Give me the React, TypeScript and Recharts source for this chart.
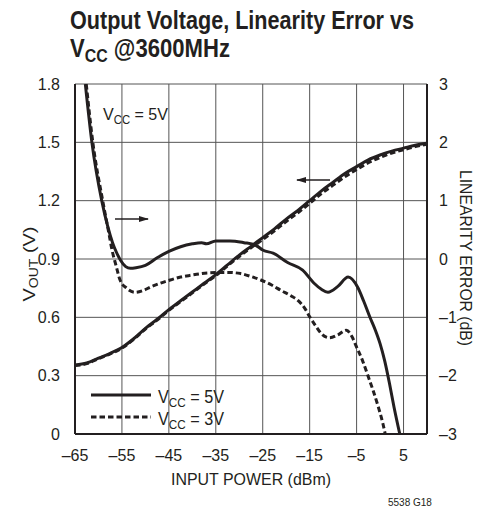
import React from 'react';
import { ComposedChart, Line, XAxis, YAxis, CartesianGrid, Legend } from 'recharts';

// ---- data ----
const xTicks = [-65, -55, -45, -35, -25, -15, -5, 5];
const voutTicks = [0, 0.3, 0.6, 0.9, 1.2, 1.5, 1.8];
const errTicks = [-3, -2, -1, 0, 1, 2, 3];

// Output voltage vs input power
const voutPin = [-65, -62.5, -60, -57.5, -55, -52.5, -50, -47.5, -45, -42.5, -40, -37.5, -35, -32.5, -30, -27.5, -25, -22.5, -20, -17.5, -15, -12.5, -10, -7.5, -5, -2.5, 0, 2.5, 5, 7.5, 10];
const vout5V = [0.355, 0.365, 0.39, 0.415, 0.445, 0.49, 0.543, 0.59, 0.64, 0.685, 0.73, 0.775, 0.82, 0.87, 0.92, 0.965, 1.01, 1.055, 1.105, 1.15, 1.2, 1.25, 1.295, 1.34, 1.375, 1.41, 1.435, 1.455, 1.47, 1.485, 1.495];
const vout3V = [0.352, 0.362, 0.387, 0.412, 0.442, 0.487, 0.54, 0.586, 0.636, 0.681, 0.726, 0.771, 0.815, 0.865, 0.913, 0.958, 1.0, 1.045, 1.093, 1.138, 1.186, 1.236, 1.28, 1.323, 1.36, 1.395, 1.422, 1.445, 1.462, 1.478, 1.49];

// Linearity error, VCC = 5V
const errPin5V = [-62.8, -61.4, -59.3, -58, -57, -56.2, -55.3, -54.2, -53.2, -52, -50, -47.5, -45, -42.5, -40, -38, -37, -35, -32, -29, -26.6, -24.9, -22.8, -19.7, -16.5, -14, -12.5, -11.1, -9, -6.8, -4.8, -3.5, -2.2, -1, 0, 1, 2, 3, 4.2];
const err5V = [3, 2, 1, 0.55, 0.28, 0.12, -0.02, -0.13, -0.16, -0.15, -0.11, 0.02, 0.13, 0.21, 0.26, 0.28, 0.26, 0.31, 0.31, 0.28, 0.24, 0.15, 0.1, -0.06, -0.19, -0.42, -0.52, -0.57, -0.47, -0.31, -0.48, -0.72, -0.99, -1.22, -1.45, -1.75, -2.13, -2.55, -3];

// Linearity error, VCC = 3V
const errPin3V = [-62.6, -61.2, -59.1, -57.8, -57.1, -56.3, -55.4, -54, -52.2, -50.5, -48.9, -47, -44.7, -42.5, -40.4, -36.8, -32.5, -29.7, -27.5, -25.4, -23, -21.1, -19, -17.5, -16, -15, -13.7, -12.5, -10.8, -9, -7.2, -6, -5, -3.7, -2.5, -1.5, -0.4, 0.6, 1.1];
const err3V = [3, 2, 1, 0.45, 0.15, -0.1, -0.36, -0.5, -0.57, -0.54, -0.48, -0.42, -0.36, -0.31, -0.28, -0.24, -0.23, -0.25, -0.3, -0.36, -0.45, -0.54, -0.63, -0.71, -0.85, -0.99, -1.15, -1.28, -1.35, -1.3, -1.22, -1.33, -1.51, -1.75, -2.02, -2.25, -2.53, -2.82, -3];

const seriesNames = ['VCC = 5V', 'VCC = 3V'];

const toPts = (xs: number[], ys: number[]) => xs.map((x, i) => ({ x, y: ys[i] }));

const vout5Data = toPts(voutPin, vout5V);
const vout3Data = toPts(voutPin, vout3V);
const err5Data = toPts(errPin5V, err5V);
const err3Data = toPts(errPin3V, err3V);

const FONT = "'Liberation Sans', Arial, Helvetica, sans-serif";
const INK = '#231f20';

const fmtMinus = (v: number) => (v < 0 ? '\u2013' + Math.abs(v) : String(v));

const LegendBox = () => (
  <svg width={150} height={50} style={{ overflow: 'visible', display: 'block' }}>
    <line x1={0} y1={8} x2={60} y2={8} stroke={INK} strokeWidth={3.2} />
    <line x1={0} y1={30} x2={60} y2={30} stroke={INK} strokeWidth={3.2} strokeDasharray="5.5 3" />
    <text x={67} y={16} fontFamily={FONT} fontSize={18} fill={INK} textLength={66} lengthAdjust="spacingAndGlyphs">
      V<tspan fontSize={13} dy={4}>CC</tspan><tspan dy={-4}> = 5V</tspan>
    </text>
    <text x={67} y={38} fontFamily={FONT} fontSize={18} fill={INK} textLength={66} lengthAdjust="spacingAndGlyphs">
      V<tspan fontSize={13} dy={4}>CC</tspan><tspan dy={-4}> = 3V</tspan>
    </text>
  </svg>
);

export default function App() {
  return (
    <div style={{ position: 'absolute', left: 0, top: 0, width: 490, height: 517, background: '#fff' }}>
      <ComposedChart
        width={490}
        height={517}
        margin={{ top: 84, right: 0, bottom: 53, left: 0 }}
      >
        <CartesianGrid yAxisId="v" stroke="#555" strokeWidth={1} />
        <XAxis
          type="number"
          dataKey="x"
          domain={[-65, 10]}
          ticks={xTicks}
          allowDataOverflow
          tickFormatter={fmtMinus}
          tick={{ fontFamily: FONT, fontSize: 16, fill: INK }}
          tickLine={false}
          axisLine={{ stroke: INK, strokeWidth: 2 }}
          tickMargin={10}
          height={30}
        />
        <XAxis
          xAxisId="top"
          orientation="top"
          type="number"
          domain={[-65, 10]}
          tick={false}
          tickLine={false}
          height={0}
          axisLine={{ stroke: INK, strokeWidth: 2 }}
        />
        <YAxis
          yAxisId="v"
          orientation="left"
          width={75}
          domain={[0, 1.8]}
          ticks={voutTicks}
          tickFormatter={(v: number) => (v === 0 ? '0' : v.toFixed(1))}
          tick={{ fontFamily: FONT, fontSize: 16, fill: INK }}
          tickLine={false}
          axisLine={{ stroke: INK, strokeWidth: 2 }}
          tickMargin={9}
        />
        <YAxis
          yAxisId="e"
          orientation="right"
          width={63}
          domain={[-3, 3]}
          ticks={errTicks}
          allowDataOverflow
          tickFormatter={fmtMinus}
          tick={{ fontFamily: FONT, fontSize: 16, fill: INK }}
          tickLine={false}
          axisLine={{ stroke: INK, strokeWidth: 2 }}
          tickMargin={6}
        />
        <Line yAxisId="v" data={vout5Data} dataKey="y" type="monotone" stroke={INK} strokeWidth={3} dot={false} isAnimationActive={false} name={seriesNames[0]} />
        <Line yAxisId="v" data={vout3Data} dataKey="y" type="monotone" stroke={INK} strokeWidth={3} strokeDasharray="5.5 3" dot={false} isAnimationActive={false} name={seriesNames[1]} />
        <Line yAxisId="e" data={err5Data} dataKey="y" type="monotone" stroke={INK} strokeWidth={3} dot={false} isAnimationActive={false} name={seriesNames[0]} />
        <Line yAxisId="e" data={err3Data} dataKey="y" type="monotone" stroke={INK} strokeWidth={3} strokeDasharray="5.5 3" dot={false} isAnimationActive={false} name={seriesNames[1]} />
        <Legend
          layout="vertical"
          verticalAlign="middle"
          align="center"
          content={() => <LegendBox />}
          wrapperStyle={{ position: 'absolute', left: 91, top: 387, width: 150, height: 50, right: 'auto', bottom: 'auto' }}
        />
      </ComposedChart>
      <svg
        width={490}
        height={517}
        style={{ position: 'absolute', left: 0, top: 0, pointerEvents: 'none' }}
      >
        <defs>
          <marker id="ah" markerWidth="10" markerHeight="6" refX="9" refY="3" orient="auto" markerUnits="userSpaceOnUse">
            <path d="M0,0 L10,3 L0,6 Z" fill={INK} />
          </marker>
        </defs>
        {/* title */}
        <text x={70} y={29} fontFamily={FONT} fontWeight="bold" fontSize={25} fill={INK} textLength={344} lengthAdjust="spacingAndGlyphs">
          Output Voltage, Linearity Error vs
        </text>
        <text x={70} y={57} fontFamily={FONT} fontWeight="bold" fontSize={25} fill={INK} textLength={160} lengthAdjust="spacingAndGlyphs">
          V<tspan fontSize={18} dy={5}>CC</tspan><tspan dy={-5}> @3600MHz</tspan>
        </text>
        {/* annotation */}
        <text x={103} y={120} fontFamily={FONT} fontSize={17} fill={INK} textLength={65} lengthAdjust="spacingAndGlyphs">
          V<tspan fontSize={12} dy={4}>CC</tspan><tspan dy={-4}> = 5V</tspan>
        </text>
        <line x1={115} y1={219} x2={148} y2={219} stroke={INK} strokeWidth={1.3} markerEnd="url(#ah)" />
        <line x1={330} y1={180} x2={297} y2={180} stroke={INK} strokeWidth={1.3} markerEnd="url(#ah)" />
        {/* axis titles */}
        <text x={251} y={485} textAnchor="middle" fontFamily={FONT} fontSize={17} fill={INK} textLength={160} lengthAdjust="spacingAndGlyphs">
          INPUT POWER (dBm)
        </text>
        <text transform="translate(35,264) rotate(-90)" textAnchor="middle" fontFamily={FONT} fontSize={17} fill={INK} textLength={75} lengthAdjust="spacingAndGlyphs">
          V<tspan fontSize={12} dy={3}>OUT</tspan><tspan dy={-3}> (V)</tspan>
        </text>
        <text transform="translate(460,258) rotate(90)" textAnchor="middle" fontFamily={FONT} fontSize={16} fill={INK} textLength={176} lengthAdjust="spacingAndGlyphs">
          LINEARITY ERROR (dB)
        </text>
        <text x={388} y={506} fontFamily={FONT} fontSize={10} fill={INK}>
          5538 G18
        </text>
      </svg>
    </div>
  );
}
